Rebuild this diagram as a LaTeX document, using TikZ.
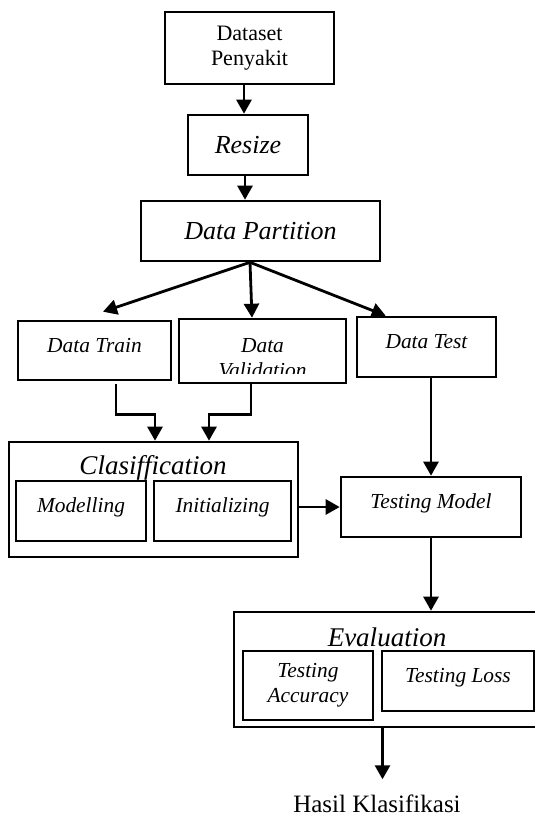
\documentclass[tikz,border=0pt]{standalone}
\usepackage{fontspec}
\setmainfont{Liberation Serif}
\usetikzlibrary{arrows.meta}

\begin{document}
\begin{tikzpicture}[x=0.5pt, y=-0.5pt,
	box/.style={draw, line width=1.3pt, rectangle, align=center, inner sep=0pt},
	small/.style={font=\fontsize{10.7}{12.5}\selectfont\itshape},
	up/.style={text height=7.5pt, text depth=6pt},
	big/.style={font=\fontsize{13}{15}\selectfont\itshape},
	head/.style={font=\fontsize{13.5}{15}\selectfont\itshape, inner sep=0pt},
	arr/.style={line width=1.4pt, -{Triangle[length=7pt, width=7.5pt]}}]
			\useasboundingbox (0, 0) rectangle (535, 816);

			\node[box, minimum width=84.5pt, minimum height=36pt, font=\fontsize{11}{12.5}\selectfont] (dataset) at(249.5, 48){Dataset\\Penyakit};
			\node[box, big, minimum width=60pt, minimum height=30pt] (resize) at(248, 145){Resize};
			\node[box, big, minimum width=119.5pt, minimum height=30pt] (part) at(260.5, 231){Data Partition};

				\node[box, small, up, minimum width=76.5pt, minimum height=29.5pt] (train) at(94.5, 350.5){Data Train};
				\node[box, minimum width=83.5pt, minimum height=32pt] (valid) at(262.5, 351){};
				\begin{scope}
					\clip (valid.north west) rectangle (valid.east |- 0, 373);
					\node[small, align=center] (validtxt) at(262.5, 358){Data\\Validation};
				\end{scope}
				\node[box, small, up, minimum width=69.5pt, minimum height=30pt] (test) at(426.5, 347){Data Test};

			\node[box, minimum width=144.5pt, minimum height=57.5pt] (clas) at(153.5, 499.5){};
				\node[head] (clastitle) at(153, 468){Clasiffication};
				\node[box, small, up, minimum width=65pt, minimum height=30pt] (model) at(81, 511){Modelling};
				\node[box, small, up, minimum width=68.5pt, minimum height=30pt] (init) at(222.5, 511){Initializing};
			\node[box, small, up, minimum width=90pt, minimum height=30pt] (tmodel) at(431, 507){Testing Model};

			\node[box, minimum width=151.5pt, minimum height=57.5pt] (eval) at(385.5, 669.5){};
				\node[head] (evaltitle) at(387, 637){Evaluation};
				\node[box, small, minimum width=65pt, minimum height=34.5pt] (tacc) at(308, 685.5){Testing\\Accuracy};
				\node[box, small, up, minimum width=76pt, minimum height=30pt] (tloss) at(458, 681){Testing Loss};

			\node[font=\fontsize{12.5}{14}\selectfont, inner ysep=7.7pt] (hasil) at(377, 804){Hasil Klasifikasi};

			\coordinate (d1) at([xshift=-2.75pt]dataset.south);
			\draw[arr] (d1) to (d1 |- resize.north);
			\coordinate (r1) at([xshift=-1.5pt]resize.south);
			\draw[arr] (r1) to (r1 |- part.north);

			\coordinate (split) at([xshift=-5.25pt]part.south);
			\draw[arr] (split) to ([xshift=4.25pt, yshift=4pt]train.north);
			\draw[arr] (split) to ([xshift=-5.25pt]valid.north);
			\draw[arr] (split) to ([xshift=15pt]test.north west);

			\draw[arr] ([xshift=10.75pt, yshift=-1.5pt]train.south) -- ++(0, 30) -| ([xshift=0.75pt]clas.north);
			\draw[arr] ([xshift=-5.75pt]valid.south) -- ++(0, 30) -| ([xshift=27.75pt]clas.north);

			\draw[arr] (tmodel.north |- test.south) to (tmodel.north);
			\draw[arr] (clas.east |- tmodel.west) to (tmodel.west);
			\draw[arr] (tmodel.south) to (tmodel.south |- eval.north);
			\coordinate (e1) at([xshift=-1.5pt]eval.south);
			\draw[arr] (e1) to (e1 |- hasil.north);
		\end{tikzpicture}
\end{document}
